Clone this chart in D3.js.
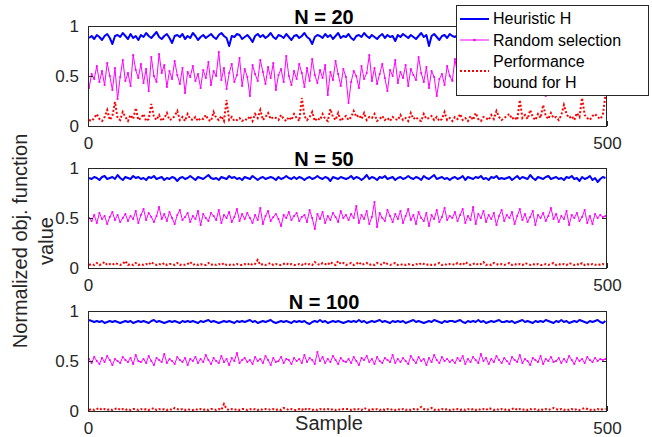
<!DOCTYPE html>
<html><head><meta charset="utf-8">
<script src="https://cdn.jsdelivr.net/npm/d3@7"></script>
<style>body{margin:0;background:#fff}svg{display:block}</style>
</head><body><svg id="c" width="652" height="437"></svg>
<script>
// ---- chart data ----
const panelTitles = ["N = 20", "N = 50", "N = 100"];
const yTickValues = [0, 0.5, 1];
const xTickValues = [0, 500];
const xDomain = [0, 500];
const seriesNames = ["Heuristic H", "Random selection", "Performance bound for H"];
const legendLines = [["Heuristic H"], ["Random selection"], ["Performance", "bound for H"]];
const xLabel = "Sample";
const yLabelLines = ["Normalized obj. function", "value"];
// samples are plotted every 2.5 samples starting at sample 1
const sampleStart = 1, sampleStep = 2.5;

const heuristicN20 = [
.88,.90,.87,.91,.89,.86,.90,.92,.88,.82,.90,.91,.89,.93,.90,.87,.92,.88,.90,.86,
.91,.89,.93,.90,.88,.91,.94,.89,.87,.90,.92,.88,.83,.90,.91,.89,.92,.87,.90,.88,
.93,.90,.86,.89,.91,.88,.90,.92,.89,.87,.91,.93,.90,.88,.80,.90,.89,.92,.91,.87,
.89,.91,.88,.84,.90,.92,.89,.91,.88,.90,.93,.89,.87,.91,.90,.88,.92,.89,.86,.90,
.91,.88,.90,.93,.89,.87,.82,.89,.91,.90,.88,.92,.89,.91,.87,.90,.93,.88,.90,.89,
.92,.88,.86,.90,.91,.89,.93,.90,.88,.91,.89,.87,.90,.92,.88,.91,.89,.90,.85,.91,
.89,.92,.90,.88,.91,.89,.87,.90,.93,.89,.91,.80,.90,.92,.89,.86,.90,.91,.88,.92,
.90,.89,.91,.87,.90,.93,.88,.90,.89,.91,.86,.90,.92,.89,.90,.88,.91,.93,.89,.87,
.90,.92,.88,.91,.89,.90,.87,.91,.93,.89,.90,.88,.92,.90,.87,.91,.89,.90,.92,.88,
.91,.89,.86,.90,.92,.88,.91,.89,.90,.88,.92,.89,.91,.87,.90,.89,.92,.90,.88,.91];
const randomN20 = [
.38,.52,.47,.60,.44,.55,.41,.63,.50,.36,.58,.27,.49,.66,.45,.53,.40,.71,.56,.48,
.62,.43,.57,.35,.69,.50,.44,.72,.53,.61,.39,.55,.47,.65,.51,.42,.58,.33,.54,.49,
.60,.45,.52,.38,.56,.48,.64,.41,.55,.50,.74,.46,.58,.37,.53,.62,.44,.51,.68,.40,
.57,.49,.30,.61,.52,.45,.66,.54,.42,.59,.48,.63,.36,.51,.57,.44,.70,.50,.41,.55,
.47,.62,.53,.39,.58,.45,.67,.51,.43,.56,.48,.61,.31,.54,.46,.65,.52,.40,.57,.49,
.23,.44,.55,.50,.38,.60,.47,.53,.71,.45,.58,.42,.52,.62,.48,.35,.56,.50,.66,.43,
.54,.48,.61,.40,.57,.51,.46,.69,.53,.44,.59,.38,.55,.49,.30,.47,.52,.41,.60,.50,
.45,.67,.52,.43,.58,.41,.54,.48,.62,.46,.55,.39,.65,.51,.44,.57,.48,.70,.53,.42,
.59,.47,.56,.50,.64,.45,.52,.37,.58,.49,.61,.44,.54,.68,.47,.55,.30,.57,.50,.63,
.46,.53,.41,.59,.50,.56,.43,.62,.48,.54,.40,.58,.51,.66,.45,.55,.49,.60,.44,.52];
const boundN20 = [
.06,.05,.08,.12,.07,.05,.09,.16,.06,.10,.24,.08,.06,.14,.09,.05,.11,.07,.18,.06,
.08,.12,.05,.07,.22,.09,.06,.11,.05,.08,.13,.06,.07,.10,.15,.06,.09,.05,.12,.07,
.06,.09,.05,.08,.07,.11,.06,.05,.14,.08,.06,.10,.05,.26,.06,.09,.05,.06,.08,.05,
.07,.06,.10,.05,.12,.08,.16,.06,.09,.13,.07,.09,.08,.06,.11,.07,.05,.09,.06,.12,
.08,.05,.28,.10,.06,.09,.14,.05,.08,.06,.12,.07,.05,.17,.09,.06,.13,.05,.08,.10,
.06,.09,.15,.09,.11,.07,.13,.06,.09,.08,.12,.05,.07,.10,.06,.08,.05,.09,.07,.06,
.11,.06,.08,.05,.13,.07,.09,.06,.05,.12,.07,.08,.10,.06,.09,.05,.07,.14,.06,.08,
.05,.09,.07,.12,.06,.08,.05,.10,.06,.13,.07,.05,.09,.08,.06,.11,.07,.15,.09,.06,
.08,.10,.12,.07,.09,.06,.26,.08,.11,.07,.16,.09,.06,.12,.08,.21,.10,.07,.13,.08,
.09,.06,.11,.21,.12,.08,.10,.06,.13,.09,.28,.11,.08,.06,.10,.12,.09,.07,.11,.31];

const heuristicN50 = [
.90,.89,.91,.90,.88,.91,.92,.89,.90,.91,.89,.93,.90,.88,.91,.90,.89,.92,.90,.91,
.89,.90,.88,.91,.90,.92,.89,.90,.91,.88,.90,.89,.91,.90,.87,.90,.91,.89,.90,.92,
.90,.88,.91,.90,.89,.91,.93,.90,.89,.90,.88,.91,.90,.89,.92,.90,.91,.89,.90,.88,
.91,.90,.89,.92,.90,.88,.90,.91,.89,.90,.91,.90,.88,.91,.89,.90,.92,.90,.89,.91,
.89,.91,.90,.88,.90,.91,.89,.90,.92,.90,.89,.91,.90,.87,.91,.90,.89,.91,.90,.89,
.90,.92,.89,.91,.90,.88,.90,.93,.89,.91,.90,.88,.91,.90,.92,.89,.90,.91,.88,.90,
.91,.89,.90,.92,.90,.89,.91,.90,.88,.92,.90,.89,.91,.93,.89,.90,.91,.89,.90,.88,
.90,.91,.89,.90,.92,.88,.91,.90,.89,.91,.90,.92,.89,.90,.88,.91,.90,.92,.89,.90,
.89,.90,.91,.88,.90,.92,.89,.91,.90,.89,.93,.90,.88,.91,.90,.89,.91,.92,.89,.90,
.91,.89,.90,.88,.91,.90,.92,.89,.90,.87,.91,.89,.90,.92,.88,.90,.86,.89,.91,.90];
const randomN50 = [
.50,.47,.53,.45,.55,.49,.52,.44,.51,.56,.48,.53,.46,.50,.54,.47,.52,.49,.57,.45,
.53,.59,.48,.55,.51,.46,.52,.61,.49,.54,.47,.56,.50,.44,.53,.58,.48,.51,.55,.46,
.52,.49,.57,.43,.54,.50,.47,.55,.52,.48,.58,.45,.53,.50,.56,.46,.51,.59,.47,.54,
.49,.55,.50,.45,.53,.48,.60,.44,.52,.57,.47,.51,.54,.49,.42,.53,.50,.56,.48,.52,
.55,.47,.51,.53,.46,.58,.50,.39,.54,.49,.56,.45,.52,.48,.55,.51,.46,.57,.50,.53,
.48,.54,.50,.62,.45,.53,.49,.57,.44,.51,.66,.41,.55,.50,.47,.58,.52,.46,.54,.49,
.57,.45,.52,.59,.48,.53,.44,.56,.50,.47,.55,.42,.53,.49,.58,.46,.51,.60,.48,.52,
.50,.56,.47,.53,.59,.45,.52,.48,.61,.44,.54,.50,.57,.46,.53,.49,.55,.43,.52,.58,
.47,.53,.50,.56,.44,.52,.59,.48,.54,.46,.51,.57,.43,.53,.50,.55,.47,.52,.60,.49,
.54,.46,.52,.49,.57,.43,.53,.50,.55,.47,.51,.58,.45,.52,.44,.54,.50,.53,.51,.52];
const boundN50 = [
.03,.04,.03,.05,.03,.04,.06,.03,.04,.03,.05,.04,.03,.04,.07,.03,.04,.03,.05,.03,
.04,.03,.04,.03,.06,.04,.03,.04,.03,.05,.03,.04,.04,.03,.05,.03,.04,.03,.04,.06,
.03,.04,.03,.04,.03,.03,.05,.03,.04,.03,.04,.03,.05,.03,.03,.04,.03,.04,.03,.03,
.04,.03,.05,.03,.04,.08,.03,.04,.03,.04,.05,.03,.04,.03,.03,.04,.05,.03,.04,.03,
.03,.04,.03,.05,.03,.04,.03,.06,.04,.03,.05,.04,.03,.06,.04,.03,.07,.04,.05,.03,
.04,.05,.03,.04,.06,.03,.04,.05,.03,.04,.03,.05,.04,.03,.06,.04,.03,.04,.05,.03,
.03,.04,.03,.04,.03,.03,.04,.03,.05,.04,.03,.04,.03,.03,.04,.05,.03,.04,.03,.04,
.04,.03,.05,.04,.03,.06,.04,.03,.04,.05,.03,.04,.06,.03,.04,.03,.05,.04,.03,.04,
.03,.04,.05,.03,.04,.03,.04,.03,.05,.04,.03,.04,.03,.04,.03,.03,.04,.03,.04,.05,
.03,.04,.03,.04,.03,.05,.04,.03,.04,.03,.05,.03,.04,.03,.04,.03,.04,.03,.04,.03];

const heuristicN100 = [
.91,.90,.89,.90,.89,.90,.88,.89,.90,.89,.90,.89,.88,.89,.90,.89,.90,.88,.89,.90,
.89,.90,.89,.88,.90,.91,.89,.90,.89,.88,.89,.90,.89,.90,.89,.88,.90,.89,.90,.89,
.90,.89,.88,.90,.89,.90,.91,.89,.90,.89,.88,.89,.90,.89,.90,.89,.88,.90,.89,.90,
.89,.90,.91,.89,.90,.88,.89,.90,.89,.90,.91,.89,.88,.89,.90,.89,.90,.89,.88,.90,
.89,.90,.89,.90,.88,.87,.89,.90,.89,.91,.89,.90,.88,.89,.90,.89,.90,.89,.88,.89,
.90,.89,.90,.89,.91,.89,.90,.88,.89,.90,.89,.90,.91,.89,.90,.89,.88,.90,.89,.90,
.89,.90,.88,.89,.90,.91,.89,.90,.89,.88,.89,.90,.89,.91,.90,.89,.88,.90,.89,.90,
.90,.89,.90,.91,.89,.88,.90,.89,.90,.89,.91,.89,.90,.88,.89,.90,.89,.90,.91,.89,
.89,.90,.89,.90,.88,.89,.90,.91,.89,.90,.89,.88,.90,.89,.90,.89,.91,.90,.89,.88,
.90,.89,.91,.89,.90,.88,.89,.90,.89,.91,.90,.89,.88,.90,.89,.90,.91,.89,.88,.90];
const randomN100 = [
.52,.48,.54,.50,.47,.53,.49,.55,.51,.46,.52,.50,.48,.54,.51,.49,.53,.47,.56,.50,
.49,.52,.48,.55,.50,.46,.53,.51,.49,.57,.48,.52,.50,.47,.54,.51,.49,.53,.46,.52,
.50,.54,.48,.52,.49,.56,.51,.47,.53,.50,.48,.55,.49,.52,.46,.53,.50,.58,.48,.51,
.53,.49,.51,.47,.54,.50,.52,.48,.55,.51,.46,.53,.49,.50,.54,.48,.52,.51,.47,.53,
.50,.52,.48,.56,.49,.53,.51,.47,.59,.50,.54,.48,.52,.49,.55,.51,.47,.53,.50,.49,
.52,.48,.54,.50,.46,.53,.51,.55,.49,.52,.47,.54,.50,.48,.53,.51,.49,.56,.48,.52,
.49,.53,.50,.47,.55,.51,.48,.54,.50,.52,.46,.53,.49,.56,.51,.48,.54,.50,.52,.49,
.51,.48,.53,.50,.55,.47,.52,.49,.54,.51,.48,.57,.50,.53,.47,.52,.49,.55,.51,.48,
.53,.50,.47,.54,.51,.49,.56,.48,.52,.50,.46,.53,.51,.49,.55,.47,.52,.50,.54,.49,
.50,.53,.48,.52,.49,.55,.51,.47,.53,.50,.52,.48,.54,.51,.49,.53,.50,.52,.51,.52];
const boundN100 = [
.01,.02,.01,.02,.03,.01,.02,.01,.02,.01,.02,.03,.01,.02,.01,.02,.01,.02,.02,.01,
.02,.01,.02,.01,.02,.03,.01,.02,.01,.02,.01,.02,.01,.03,.02,.01,.02,.01,.02,.01,
.01,.02,.01,.02,.01,.02,.01,.02,.02,.01,.02,.01,.07,.02,.01,.02,.01,.02,.01,.02,
.02,.01,.02,.01,.02,.01,.02,.01,.02,.02,.01,.02,.01,.02,.01,.03,.02,.01,.02,.01,
.01,.02,.01,.03,.01,.02,.01,.02,.01,.02,.01,.02,.02,.01,.02,.01,.02,.01,.02,.02,
.02,.01,.02,.01,.02,.01,.03,.02,.01,.02,.01,.02,.01,.02,.01,.02,.01,.02,.01,.02,
.01,.02,.01,.02,.01,.02,.01,.02,.04,.02,.01,.02,.03,.01,.02,.01,.02,.01,.02,.01,
.02,.01,.02,.01,.02,.01,.02,.01,.02,.01,.02,.01,.02,.01,.03,.02,.01,.02,.01,.02,
.01,.02,.01,.02,.03,.01,.02,.01,.02,.01,.02,.01,.02,.01,.02,.01,.02,.01,.02,.03,
.02,.01,.02,.01,.02,.01,.02,.01,.02,.01,.02,.03,.02,.01,.02,.01,.02,.01,.02,.02];

// ---- build panels from the arrays ----
const panels = [
  {title: panelTitles[0], heuristic: heuristicN20, random: randomN20, bound: boundN20},
  {title: panelTitles[1], heuristic: heuristicN50, random: randomN50, bound: boundN50},
  {title: panelTitles[2], heuristic: heuristicN100, random: randomN100, bound: boundN100}
];

const FONT = "'Liberation Sans', Arial, Helvetica, sans-serif";
const AXC = "#262626";
const svg = d3.select("#c");
const axL = 88, axR = 607, tops = [26, 168, 311], ph = 100;
const x = d3.scaleLinear().domain(xDomain).range([axL, axR]);
const sampleAt = i => sampleStart + i * sampleStep;
const colors = {heuristic: "#0000ff", random: "#ff00ff", bound: "#ff0000"};

panels.forEach((p, k) => {
  const top = tops[k];
  const y = d3.scaleLinear().domain([0, 1]).range([top + ph, top]);
  const clipId = "clip" + k;
  svg.append("clipPath").attr("id", clipId).append("rect")
    .attr("x", axL).attr("y", top).attr("width", axR - axL).attr("height", ph);
  const g = svg.append("g").attr("clip-path", `url(#${clipId})`);
  const line = d3.line().x((d, i) => x(sampleAt(i))).y(d => y(d));

  g.append("path").datum(p.heuristic).attr("d", line)
    .attr("fill", "none").attr("stroke", colors.heuristic).attr("stroke-width", 2)
    .attr("stroke-linejoin", "round");
  g.append("path").datum(p.random).attr("d", line)
    .attr("fill", "none").attr("stroke", colors.random).attr("stroke-width", 1)
    .attr("stroke-linejoin", "round");
  g.append("g").selectAll("circle").data(p.random).join("circle")
    .attr("cx", (d, i) => x(sampleAt(i))).attr("cy", d => y(d)).attr("r", 1.1)
    .attr("fill", colors.random);
  g.append("path").datum(p.bound).attr("d", line)
    .attr("fill", "none").attr("stroke", colors.bound).attr("stroke-width", 2)
    .attr("stroke-dasharray", "2,2");

  // axes
  const styleAxis = sel => {
    sel.select(".domain").remove();
    sel.selectAll(".tick line").attr("stroke", AXC);
    sel.selectAll(".tick text").attr("fill", AXC).style("font-family", FONT).style("font-size", "17px");
  };
  svg.append("g").attr("transform", `translate(${axL},0)`)
    .call(d3.axisLeft(y).tickValues(yTickValues).tickFormat(d3.format("~g"))
      .tickSizeInner(-5).tickSizeOuter(0).tickPadding(9)).call(styleAxis);
  svg.append("g").attr("transform", `translate(${axR},0)`)
    .call(d3.axisRight(y).tickValues(yTickValues).tickFormat("")
      .tickSizeInner(-5).tickSizeOuter(0)).call(styleAxis);
  svg.append("g").attr("transform", `translate(0,${top + ph})`)
    .call(d3.axisBottom(x).tickValues(xTickValues).tickFormat(d3.format("d"))
      .tickSizeInner(-5).tickSizeOuter(0).tickPadding(11)).call(styleAxis);
  svg.append("rect").attr("x", axL + 0.5).attr("y", top + 0.5)
    .attr("width", axR - axL - 1).attr("height", ph)
    .attr("fill", "none").attr("stroke", AXC).attr("stroke-width", 1);

  svg.append("text").attr("x", 324).attr("y", top - 2)
    .attr("text-anchor", "middle").style("font-family", FONT)
    .style("font-size", "20px").style("font-weight", "bold").attr("fill", "#000")
    .text(p.title);
});

// x label
svg.append("text").attr("x", 329).attr("y", 430).attr("text-anchor", "middle")
  .style("font-family", FONT).style("font-size", "20px").attr("fill", AXC).text(xLabel);
// y label (two lines)
yLabelLines.forEach((t, i) => {
  svg.append("text").attr("transform", `translate(${27 + i * 26},241) rotate(-90)`)
    .attr("text-anchor", "middle").style("font-family", FONT).style("font-size", "20px")
    .attr("fill", AXC).text(t);
});

// legend
const lg = svg.append("g");
lg.append("rect").attr("x", 456.5).attr("y", 5.5).attr("width", 192).attr("height", 90)
  .attr("fill", "#fff").attr("stroke", AXC).attr("stroke-width", 1);
const legendKeys = ["heuristic", "random", "bound"];
const sampleY = [19, 40, 71];
const textBase = [[24], [46], [67, 88]];
legendKeys.forEach((key, i) => {
  const l = lg.append("line").attr("x1", 460).attr("x2", 489)
    .attr("y1", sampleY[i]).attr("y2", sampleY[i]).attr("stroke", colors[key]);
  if (key === "heuristic") l.attr("stroke-width", 2);
  if (key === "random") {
    l.attr("stroke-width", 1);
    lg.append("circle").attr("cx", 474.5).attr("cy", sampleY[i]).attr("r", 1.3).attr("fill", colors[key]);
  }
  if (key === "bound") l.attr("stroke-width", 2).attr("stroke-dasharray", "2,2");
  legendLines[i].forEach((t, j) => {
    lg.append("text").attr("x", 493).attr("y", textBase[i][j])
      .style("font-family", FONT).style("font-size", "16px").attr("fill", "#000").text(t);
  });
});
</script>
</body></html>
